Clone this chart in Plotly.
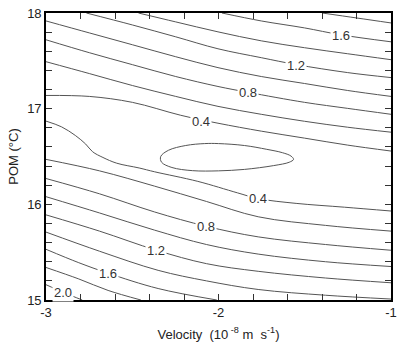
import plotly.graph_objects as go

# ---- contour lines (x: velocity, y: POM) ----
c18_x = [-1.399, -1.199, -1.000]
c18_y = [18.000, 17.948, 17.896]
c16a_x = [-1.980, -1.752, -1.501, -1.291, -1.000]
c16a_y = [18.000, 17.917, 17.844, 17.772, 17.699]
c14a_x = [-2.464, -2.248, -2.003, -1.752, -1.501, -1.251, -1.000]
c14a_y = [18.000, 17.907, 17.803, 17.709, 17.637, 17.574, 17.512]
c12a_x = [-2.766, -2.499, -2.248, -2.003, -1.752, -1.547, -1.251, -1.000]
c12a_y = [18.000, 17.875, 17.751, 17.626, 17.533, 17.460, 17.377, 17.325]
c10a_x = [-3.000, -2.749, -2.499, -2.248, -2.003, -1.752, -1.501, -1.251, -1.000]
c10a_y = [17.917, 17.792, 17.668, 17.543, 17.429, 17.336, 17.263, 17.190, 17.128]
c08a_x = [-3.000, -2.749, -2.499, -2.248, -2.003, -1.826, -1.501, -1.251, -1.000]
c08a_y = [17.720, 17.585, 17.460, 17.336, 17.232, 17.170, 17.066, 17.003, 16.941]
c06a_x = [-3.000, -2.749, -2.499, -2.248, -2.003, -1.752, -1.501, -1.251, -1.000]
c06a_y = [17.491, 17.367, 17.242, 17.128, 17.024, 16.941, 16.868, 16.806, 16.754]
c04a_x = [-3.000, -2.749, -2.499, -2.219, -2.003, -1.752, -1.501, -1.251, -1.000]
c04a_y = [17.138, 17.128, 17.066, 16.931, 16.848, 16.765, 16.692, 16.619, 16.557]
c02_x = [-2.00, -1.85, -1.72, -1.63, -1.58, -1.565, -1.59, -1.68, -1.85, -2.00, -2.15,
         -2.27, -2.33, -2.335, -2.29, -2.19, -2.08, -2.00]
c02_y = [16.635, 16.615, 16.575, 16.54, 16.505, 16.47, 16.44, 16.405, 16.365, 16.35, 16.352,
         16.385, 16.44, 16.50, 16.565, 16.615, 16.635, 16.635]
c04b_x = [-3.00, -2.91, -2.83, -2.77, -2.73, -2.67, -2.59, -2.46, -2.37, -2.12, -1.89, -1.77, -1.55, -1.27, -1.00]
c04b_y = [16.87, 16.81, 16.72, 16.63, 16.55, 16.49, 16.43, 16.38, 16.34, 16.24, 16.12, 16.06, 16.01, 15.97, 15.93]
c06b_x = [-3.00, -2.69, -2.37, -2.07, -1.77, -1.38, -1.00]
c06b_y = [16.47, 16.35, 16.19, 16.03, 15.87, 15.78, 15.72]
c08b_x = [-3.00, -2.69, -2.37, -2.07, -1.77, -1.38, -1.00]
c08b_y = [16.27, 16.11, 15.92, 15.77, 15.66, 15.58, 15.52]
c10b_x = [-3.00, -2.69, -2.37, -2.07, -1.77, -1.38, -1.00]
c10b_y = [16.08, 15.91, 15.73, 15.58, 15.48, 15.40, 15.35]
c12b_x = [-3.00, -2.69, -2.36, -2.07, -1.77, -1.38, -1.00]
c12b_y = [15.89, 15.72, 15.52, 15.38, 15.30, 15.23, 15.18]
c14b_x = [-3.00, -2.69, -2.35, -2.07, -1.77, -1.38, -1.00]
c14b_y = [15.71, 15.51, 15.31, 15.20, 15.11, 15.05, 15.01]
c16b_x = [-3.00, -2.81, -2.64, -2.35, -2.01]
c16b_y = [15.53, 15.39, 15.28, 15.12, 15.00]
c18b_x = [-3.00, -2.81, -2.64, -2.45]
c18b_y = [15.34, 15.22, 15.10, 15.00]
c20_x = [-3.00, -2.90, -2.79]
c20_y = [15.16, 15.08, 15.00]

# ---- contour labels ----
label_text = ["1.6", "1.2", "0.8", "0.4", "0.4", "0.8", "1.2", "1.6", "2.0"]
label_x = [-1.29, -1.55, -1.83, -2.10, -1.77, -2.07, -2.36, -2.64, -2.90]
label_y = [17.77, 17.45, 17.17, 16.87, 16.06, 15.77, 15.52, 15.28, 15.08]

x_ticks = [-3, -2, -1]
y_ticks = [15, 16, 17, 18]

lines = [
    (c18_x, c18_y), (c16a_x, c16a_y), (c14a_x, c14a_y), (c12a_x, c12a_y),
    (c10a_x, c10a_y), (c08a_x, c08a_y), (c06a_x, c06a_y), (c04a_x, c04a_y),
    (c02_x, c02_y), (c04b_x, c04b_y), (c06b_x, c06b_y), (c08b_x, c08b_y),
    (c10b_x, c10b_y), (c12b_x, c12b_y), (c14b_x, c14b_y), (c16b_x, c16b_y),
    (c18b_x, c18b_y), (c20_x, c20_y),
]

fig = go.Figure()
for lx, ly in lines:
    fig.add_trace(go.Scatter(
        x=lx, y=ly, mode="lines",
        line=dict(color="#555555", width=1, shape="spline", smoothing=1.0),
        hoverinfo="skip", showlegend=False,
    ))

for t, ax_, ay_ in zip(label_text, label_x, label_y):
    fig.add_annotation(
        x=ax_, y=ay_, text=t, showarrow=False,
        font=dict(family="Liberation Sans, Arial, sans-serif", size=13, color="#333333"),
        bgcolor="white", borderpad=1,
    )

axis_common = dict(
    showline=True, linecolor="black", linewidth=1.6, mirror="allticks",
    ticks="inside", ticklen=6, tickwidth=1, tickcolor="#333333",
    showgrid=False, zeroline=False,
    tickfont=dict(family="Liberation Sans, Arial, sans-serif", size=13, color="#222222"),
    minor=dict(ticks="inside", ticklen=6, tickwidth=1, tickcolor="#333333", showgrid=False),
)

fig.update_xaxes(
    range=[-3, -1], tickvals=x_ticks, ticktext=[str(v) for v in x_ticks],
    minor_dtick=0.2, minor_tick0=-3,
    title=dict(text="Velocity  (10<sup> -8</sup> m  s<sup>-1</sup>)",
               font=dict(family="Liberation Sans, Arial, sans-serif", size=13, color="#222222"),
               standoff=10),
    **axis_common,
)
fig.update_yaxes(
    range=[15, 18], tickvals=y_ticks, ticktext=[str(v) for v in y_ticks],
    minor_dtick=0.2, minor_tick0=15,
    title=dict(text="POM (°C)",
               font=dict(family="Liberation Sans, Arial, sans-serif", size=13, color="#222222"),
               standoff=6),
    **axis_common,
)

fig.update_layout(
    width=403, height=346,
    margin=dict(l=46, r=6, t=13, b=44),
    plot_bgcolor="white", paper_bgcolor="white",
    showlegend=False,
)

fig.write_html("out.html")
